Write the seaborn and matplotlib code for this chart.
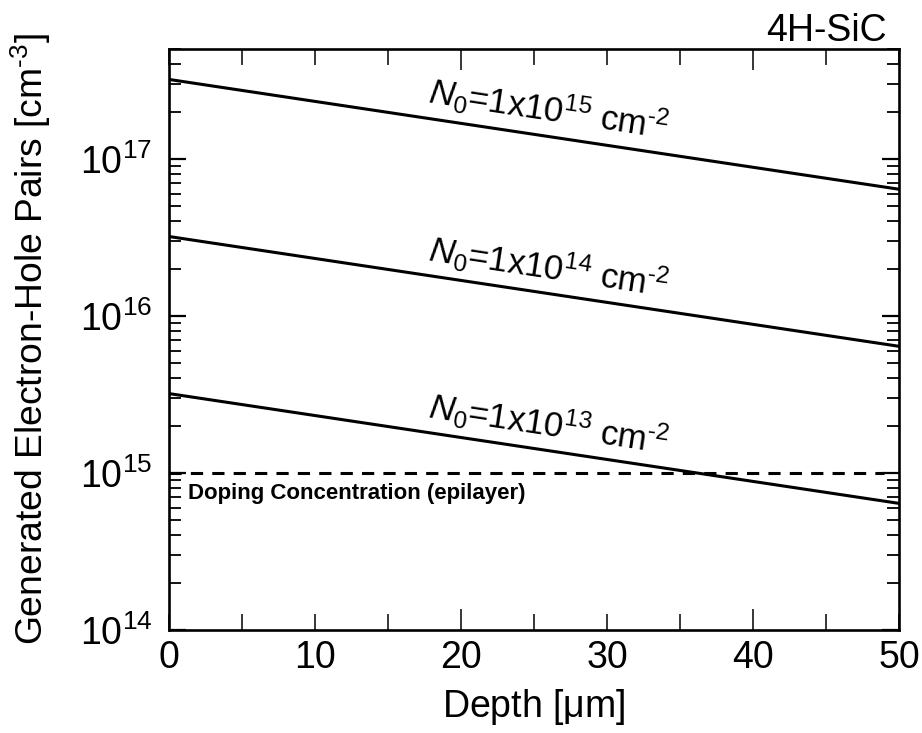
import numpy as np
import pandas as pd
import matplotlib
matplotlib.use("Agg")
import matplotlib.pyplot as plt
import seaborn as sns
from matplotlib.ticker import LogLocator, FixedLocator, NullFormatter

# ---- data ----
depth = [0, 50]                      # µm
ehp_1e15 = [3.2e17, 6.4e16]          # N0 = 1x10^15 cm^-2
ehp_1e14 = [3.2e16, 6.4e15]          # N0 = 1x10^14 cm^-2
ehp_1e13 = [3.2e15, 6.4e14]          # N0 = 1x10^13 cm^-2
doping_depth = [0, 49]
doping = [1e15, 1e15]
series_labels = [r"$\mathit{N_0}$=1x10$^{15}$ cm$^{\text{-}2}$",
                 r"$\mathit{N_0}$=1x10$^{14}$ cm$^{\text{-}2}$",
                 r"$\mathit{N_0}$=1x10$^{13}$ cm$^{\text{-}2}$"]
xticks = [0, 10, 20, 30, 40, 50]
yticks = [1e14, 1e15, 1e16, 1e17]
ytick_labels = [r"10$^{14}$", r"10$^{15}$", r"10$^{16}$", r"10$^{17}$"]

sns.set_theme(style="ticks")
plt.rcParams["font.family"] = ["Liberation Sans", "DejaVu Sans"]
plt.rcParams["mathtext.fontset"] = "custom"
plt.rcParams["mathtext.rm"] = "Liberation Sans"
plt.rcParams["mathtext.it"] = "Liberation Sans:italic"
plt.rcParams["mathtext.bf"] = "Liberation Sans:bold"

df = pd.DataFrame({
    "depth": depth * 3,
    "ehp": ehp_1e15 + ehp_1e14 + ehp_1e13,
    "series": ["a"] * 2 + ["b"] * 2 + ["c"] * 2,
})
dfd = pd.DataFrame({"depth": doping_depth, "ehp": doping})

fig = plt.figure(figsize=(9.22, 7.33), dpi=100)
ax = fig.add_axes([169 / 922, 1 - 630 / 733, (899 - 169) / 922, (630 - 49) / 733])

sns.lineplot(data=df, x="depth", y="ehp", hue="series", palette=["black"] * 3,
             linewidth=2.2, legend=False, ax=ax)
sns.lineplot(data=dfd, x="depth", y="ehp", color="black", linewidth=2.2,
             ax=ax, legend=False)
ax.lines[-1].set_dashes([4, 3])

ax.set_yscale("log")
ax.set_xlim(0, 50)
ax.set_ylim(1e14, 5e17)

ax.xaxis.set_major_locator(FixedLocator(xticks))
ax.xaxis.set_minor_locator(FixedLocator([5, 15, 25, 35, 45]))
ax.set_yticks(yticks)
ax.set_yticklabels(ytick_labels)
ax.yaxis.set_minor_locator(LogLocator(base=10, subs=np.arange(2, 10)))
ax.yaxis.set_minor_formatter(NullFormatter())

for s in ax.spines.values():
    s.set_linewidth(1.9)
    s.set_color("black")

ax.tick_params(axis="both", which="both", direction="in", top=True, right=True,
               colors="black", labelcolor="black")
ax.tick_params(axis="x", which="major", length=11.5, width=1.1, labelsize=27, pad=7)
ax.tick_params(axis="x", which="minor", length=11.5, width=1.1)
ax.tick_params(axis="y", which="major", length=12.5, width=1.6, labelsize=27, pad=12)
ax.tick_params(axis="y", which="minor", length=8.5, width=1.3)
for t, v in zip(ax.xaxis.get_major_ticks(), xticks):
    if v in (20, 40):
        t.tick1line.set_markersize(15)
        t.tick2line.set_markersize(15)

ax.set_xlabel(r"Depth [$\mathrm{\mu}$m]", fontsize=27, labelpad=8, color="black")
ax.set_ylabel(r"Generated Electron-Hole Pairs [cm$^{\text{-}3}$]", fontsize=26.8,
              labelpad=19, color="black")

# annotations along the lines
for lab, vals in zip(series_labels, [ehp_1e15, ehp_1e14, ehp_1e13]):
    xm = 26.0
    ym = vals[0] * (vals[1] / vals[0]) ** (xm / 50) * 1.48
    ax.text(xm, ym, lab, fontsize=25, rotation=-8.65, rotation_mode="anchor",
            ha="center", va="center", color="black")

ax.text(1.3, 0.86e15, "Doping Concentration (epilayer)", fontsize=16,
        fontweight="bold", ha="left", va="top", color="black")

fig.text(887 / 922, 1 - 13 / 733, "4H-SiC", fontsize=27, ha="right", va="top",
         color="black")

fig.savefig("out.png", dpi=100)
